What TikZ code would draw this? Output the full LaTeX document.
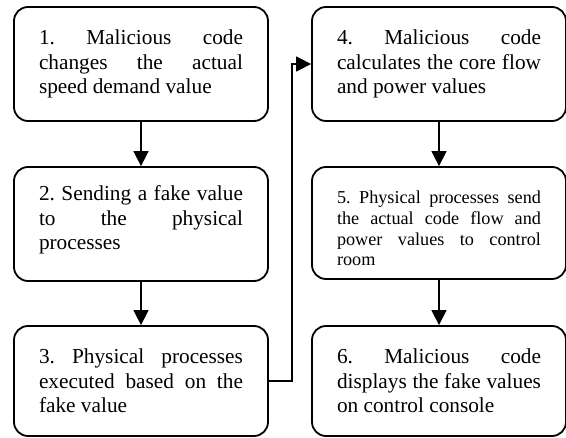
\documentclass[tikz,border=0pt]{standalone}
\usepackage{fontspec}
\setmainfont{Liberation Serif}
\usetikzlibrary{arrows.meta}
\begin{document}
\frenchspacing
\begin{tikzpicture}[x=1pt,y=-1pt,
  stepbox/.style={draw, line width=1.8pt, rounded corners=14pt, rectangle,
    text width=204pt, inner xsep=25pt, inner ysep=0pt, align=justify,
    minimum width=254pt, font=\fontsize{21.3}{24.5}\selectfont},
  smallbox/.style={stepbox, font=\fontsize{18.2}{20.7}\selectfont},
  arr/.style={line width=1.5pt, -{Triangle[length=15pt,width=15pt]}}]
\useasboundingbox (0,0) rectangle (566,438);
\node[stepbox, minimum height=114pt] (b1) at (141,64)
  {1. Malicious code\linebreak changes the actual\linebreak speed demand value};
\node[stepbox, minimum height=114pt] (b2) at (141,224)
  {2. Sending a fake value\linebreak to the physical\linebreak processes\rule[-12pt]{0pt}{0pt}};
\node[stepbox, minimum height=110pt] (b3) at (141,381)
  {3. Physical processes\linebreak executed based on the\linebreak fake value};
\node[stepbox, minimum height=114pt] (b4) at (439,64)
  {4. Malicious code\linebreak calculates the core flow\linebreak and power values};
\node[smallbox, minimum height=112pt] (b5) at (439,223)
  {\rule{0pt}{24pt}5. Physical processes send\linebreak the actual code flow and\linebreak power values to control\linebreak room};
\node[stepbox, minimum height=110pt] (b6) at (439,381)
  {6. Malicious code\linebreak displays the fake values\linebreak on control console};
\draw[arr] (b1) -- (b2);
\draw[arr] (b2) -- (b3);
\draw[arr] (b3.east) -- ++(23,0) |- (b4.west);
\draw[arr] (b4) -- (b5);
\draw[arr] (b5) -- (b6);
\end{tikzpicture}
\end{document}
